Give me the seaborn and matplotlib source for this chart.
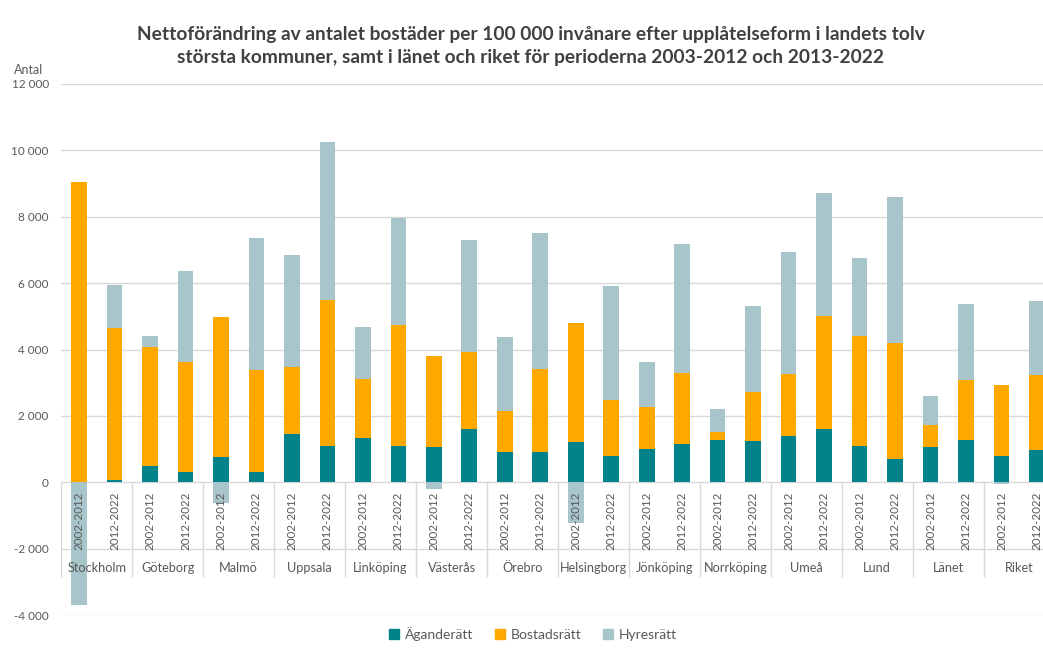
import matplotlib
matplotlib.use("Agg")
from matplotlib import pyplot as plt
from matplotlib.patches import Patch
from matplotlib.ticker import FuncFormatter
import numpy as np
import pandas as pd
import seaborn as sns

# data avlast ur diagrammet (antal per 100 000 invanare)
kommuner = ["Stockholm", "Göteborg", "Malmö", "Uppsala", "Linköping", "Västerås",
            "Örebro", "Helsingborg", "Jönköping", "Norrköping", "Umeå", "Lund",
            "Länet", "Riket"]
perioder = ["2002-2012", "2012-2022"]

aganderatt = [0, 80, 490, 320, 750, 300, 1460, 1080, 1320, 1100, 1050, 1610, 910, 900,
              1200, 790, 1000, 1150, 1260, 1240, 1400, 1590, 1100, 690, 1060, 1260, 800, 980]
bostadsratt = [9050, 4570, 3600, 3300, 4240, 3080, 2000, 4420, 1790, 3630, 2760, 2320, 1230, 2520,
               3590, 1700, 1270, 2140, 250, 1475, 1850, 3430, 3310, 3500, 660, 1820, 2140, 2260]
hyresratt = [-3700, 1280, 310, 2740, -620, 3970, 3400, 4750, 1560, 3220, -200, 3360, 2240, 4100,
             -1220, 3420, 1340, 3900, 710, 2590, 3700, 3690, 2340, 4400, 890, 2300, -40, 2210]

teal = "#00828B"
orange = "#FFA800"
gray = "#A8C5CB"
textfarg = "#595959"

df = pd.DataFrame({
    "kommun": np.repeat(kommuner, 2),
    "period": perioder * len(kommuner),
    "ag": aganderatt,
    "bost": bostadsratt,
    "hyres": hyresratt,
})
df["stapel"] = df["kommun"] + " " + df["period"]
df["hyres_neg"] = df["hyres"].clip(upper=0)
df["mitt"] = df["ag"] + df["bost"]
df["topp"] = df["mitt"] + df["hyres"].clip(lower=0)

plt.rcParams["font.family"] = ["Lato", "DejaVu Sans"]

fig = plt.figure(figsize=(10.43, 6.5), dpi=100)
ax = fig.add_axes([61.3 / 1043, 35 / 650, 993.4 / 1043, 531 / 650])

#staplarna ritas ovanpa varandra, hogsta forst
for kol, farg in [("topp", gray), ("hyres_neg", gray), ("mitt", orange), ("ag", teal)]:
    sns.barplot(data=df, x="stapel", y=kol, color=farg, width=0.44, saturation=1,
                errorbar=None, linewidth=0, ax=ax)

ax.set_xlim(-0.5, len(df) - 0.5)
ax.set_ylim(-4000, 12000)
ax.set_yticks(range(-4000, 12001, 2000))
ax.yaxis.set_major_formatter(FuncFormatter(lambda v, p: f"{int(v):,}".replace(",", " ")))
ax.tick_params(axis="y", length=0, labelsize=8.5, labelcolor=textfarg, pad=9)
ax.set_xticks([])
ax.set_xlabel("")
ax.set_ylabel("")
ax.grid(axis="y", color="#d9d9d9", lw=1)
ax.set_axisbelow(True)
for s in ax.spines.values():
    s.set_visible(False)

# kategoriaxeln i tva nivaer
for i, per in enumerate(df["period"]):
    ax.text(i, -290, per, rotation=90, ha="center", va="top", fontsize=8.4,
            color=textfarg, zorder=5)
for g, namn in enumerate(kommuner):
    ax.text(2 * g + 0.5, -2590, namn, ha="center", va="center", fontsize=9.2,
            color=textfarg, zorder=5)
ax.vlines([2 * g - 0.5 for g in range(len(kommuner) + 1)], -2860, 0,
          color="#d9d9d9", lw=1, zorder=1)

fig.text(0.509, 0.929,
         "Nettoförändring av antalet bostäder per 100 000 invånare efter upplåtelseform i landets tolv\n"
         "största kommuner, samt i länet och riket för perioderna 2003-2012 och 2013-2022",
         ha="center", va="center", fontsize=13.8, fontweight="bold", color="#404040",
         linespacing=1.45)
fig.text(0.013, 0.892, "Antal", fontsize=9, color=textfarg, va="center")

handles = [Patch(color=teal), Patch(color=orange), Patch(color=gray)]
fig.legend(handles, ["Äganderätt", "Bostadsrätt", "Hyresrätt"], loc="center",
           bbox_to_anchor=(0.511, 0.0246), ncol=3, frameon=False, fontsize=10,
           handlelength=0.7, handleheight=0.7, handletextpad=0.4, columnspacing=1.6,
           labelcolor=textfarg)

fig.savefig("out.png", dpi=100)
